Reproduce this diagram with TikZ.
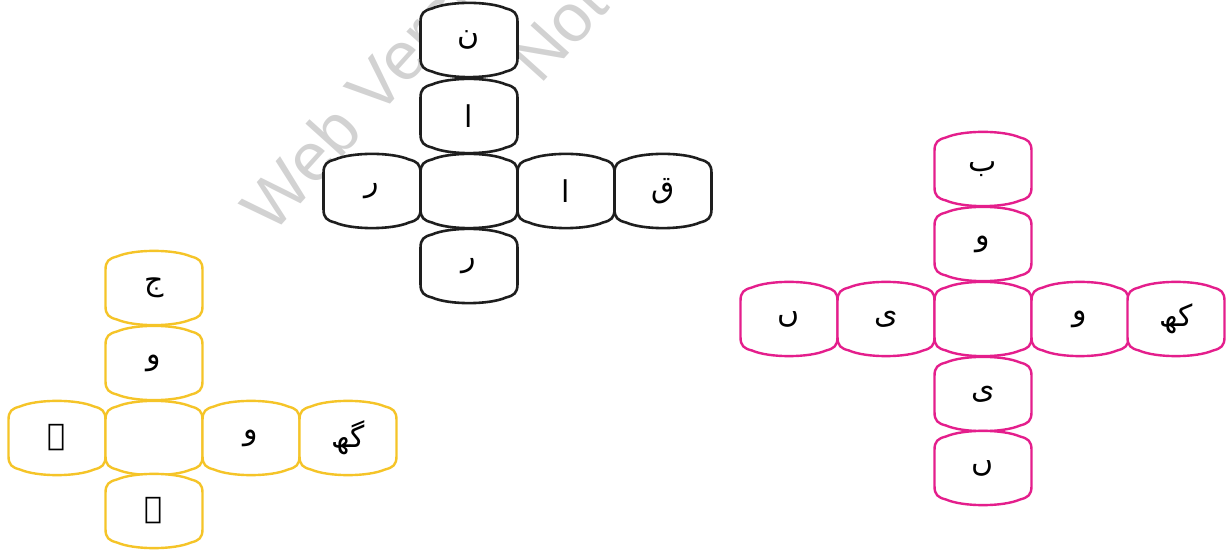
\documentclass[tikz,border=0pt]{standalone}
\usepackage{fontspec}
\setmainfont{Liberation Sans}
\newfontfamily\arabicfont[Script=Arabic]{DejaVu Sans}
\TeXXeTstate=1
\definecolor{blackline}{RGB}{30,30,30}
\definecolor{yellowline}{RGB}{245,196,40}
\definecolor{pinkline}{RGB}{228,30,140}
\definecolor{wmgray}{RGB}{210,210,210}
\newcommand\ur[1]{{\arabicfont\beginR #1\endR}}
\tikzset{
  cellshape/.pic={
    \path[pic actions] (-48.5,-18) .. controls (-48.5,-27) and (-45,-29.5) .. (-37,-31.5)
      .. controls (-20,-39) and (20,-39) .. (37,-31.5)
      .. controls (45,-29.5) and (48.5,-27) .. (48.5,-18)
      -- (48.5,18)
      .. controls (48.5,27) and (45,29.5) .. (37,31.5)
      .. controls (20,39) and (-20,39) .. (-37,31.5)
      .. controls (-45,29.5) and (-48.5,27) .. (-48.5,18) -- cycle;
  },
  blackcell/.style={draw=blackline, fill=white, line width=1.3pt},
  yellowcell/.style={draw=yellowline, fill=white, line width=1.2pt},
  pinkcell/.style={draw=pinkline, fill=white, line width=1.2pt},
  letter/.style={inner sep=0pt, text=black, font=\fontsize{15}{17}\selectfont},
  wm/.style={text=wmgray, font=\fontsize{34}{36}\selectfont, rotate=48, anchor=base west, inner sep=0pt}
}
\newcommand\cellat[4]{%
  \pic[#3] at (#2) {cellshape};
  \node[letter] (#1) at (#2) {#4};
}
\begin{document}
\begin{tikzpicture}[x=0.5pt, y=-0.5pt]
\useasboundingbox (0,0) rectangle (1226,550);
\begin{scope}
\clip (0,0) rectangle (1226,550);
\node[wm] (wmA) at (272,236) {Web Version};
\node[wm] (wmB) at (540,86) {Not};
\end{scope}
% black cross
\cellat{bA}{469,40}{blackcell}{\ur{ن}}
\cellat{bB}{469,116}{blackcell}{\ur{ا}}
\cellat{bL}{372,191}{blackcell}{\ur{ر}}
\cellat{bC}{469,191}{blackcell}{}
\cellat{bR}{566,191}{blackcell}{\ur{ا}}
\cellat{bRR}{663,191}{blackcell}{\ur{ق}}
\cellat{bD}{469,266}{blackcell}{\ur{ر}}
% yellow cross
\cellat{yA}{154,288}{yellowcell}{\ur{ج}}
\cellat{yB}{154,363}{yellowcell}{\ur{و}}
\cellat{yL}{57,438}{yellowcell}{\ur{ے}}
\cellat{yC}{154,438}{yellowcell}{}
\cellat{yR}{251,438}{yellowcell}{\ur{و}}
\cellat{yRR}{348,438}{yellowcell}{\ur{گھ}}
\cellat{yD}{154,511}{yellowcell}{\ur{ے}}
% pink cross
\cellat{pA}{983,169}{pinkcell}{\ur{ب}}
\cellat{pB}{983,244}{pinkcell}{\ur{و}}
\cellat{pLL}{789,319}{pinkcell}{\ur{ں}}
\cellat{pL}{886,319}{pinkcell}{\ur{ی}}
\cellat{pC}{983,319}{pinkcell}{}
\cellat{pR}{1080,319}{pinkcell}{\ur{و}}
\cellat{pRR}{1176,319}{pinkcell}{\ur{کھ}}
\cellat{pD}{983,394}{pinkcell}{\ur{ی}}
\cellat{pE}{983,468}{pinkcell}{\ur{ں}}
\end{tikzpicture}
\end{document}
